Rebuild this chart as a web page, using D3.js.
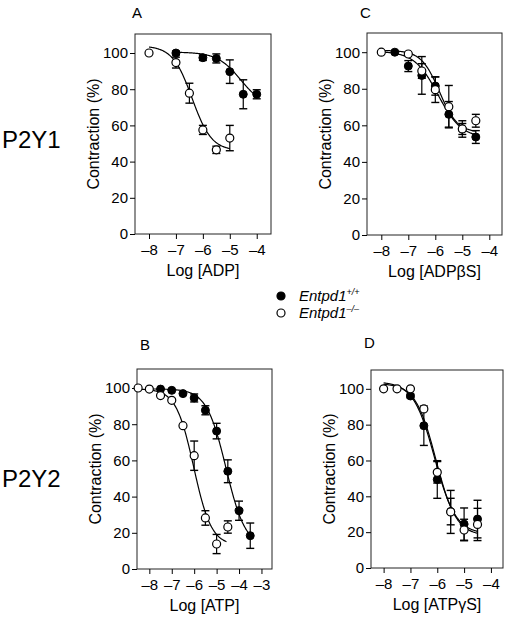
<!DOCTYPE html>
<html><head><meta charset="utf-8">
<script src="https://cdn.jsdelivr.net/npm/d3@7"></script>
<style>body{margin:0;background:#fff}svg{display:block}text{font-family:"Liberation Sans",Arial,sans-serif;fill:#000}</style>
</head><body><svg id="c" width="505" height="619"></svg>
<script>
// ---- data ----
const yTicks = [0, 20, 40, 60, 80, 100];
const xTicksA = [-8, -7, -6, -5, -4];
const xTicksB = [-8, -7, -6, -5, -4, -3];
const rowLabels = ["P2Y1", "P2Y2"];
const panelLetters = ["A", "C", "B", "D"];
const xTitles = ["Log [ADP]", "Log [ADPβS]", "Log [ATP]", "Log [ATPγS]"];

// Panel A: ADP
const adpX_wt = [-7, -6, -5.5, -5, -4.5, -4];
const adpY_wt = [100, 97.4, 97, 89.7, 77.2, 77.2];
const adpE_wt = [1, 1.5, 2.5, 6.5, 8, 2.5];
const adpX_ko = [-8, -7, -6.5, -6, -5.5, -5];
const adpY_ko = [100, 94.7, 77.8, 57.5, 46.5, 53];
const adpE_ko = [0, 3, 5.5, 2.5, 2, 7];
// Panel C: ADPβS
const adpbsX_wt = [-7.5, -7, -6.5, -6, -5.5, -5, -4.5];
const adpbsY_wt = [100, 92.4, 87.3, 81.5, 66, 58, 53.6];
const adpbsE_wt = [0, 3, 10.3, 5, 7, 3, 3.5];
const adpbsX_ko = [-8, -7, -6.5, -6, -5.5, -5, -4.5];
const adpbsY_ko = [100, 99, 89.7, 79.5, 70.2, 58, 62.5];
const adpbsE_ko = [0, 0, 4, 7, 11.6, 4.5, 3.5];
// Panel B: ATP
const atpX_wt = [-7.5, -7, -6.5, -6, -5.5, -5, -4.5, -4, -3.5];
const atpY_wt = [99.4, 98.7, 96.9, 94.5, 87.7, 76.2, 54, 32.2, 18.4];
const atpE_wt = [0, 0, 0, 2.2, 2.5, 4.3, 6.3, 5.3, 7];
const atpX_ko = [-8.5, -8, -7.5, -7, -6.5, -6, -5.5, -5, -4.5];
const atpY_ko = [100, 99.4, 95.8, 93.2, 79.2, 62.6, 28.2, 13.8, 23.2];
const atpE_ko = [0, 0, 0, 0, 0, 8.1, 4, 5.3, 3.4];
// Panel D: ATPγS
const atpgsX_wt = [-7, -6.5, -6, -5.5, -5, -4.5];
const atpgsY_wt = [96, 79.4, 49.4, 31.5, 24.5, 27.3];
const atpgsE_wt = [1, 11, 10.5, 7.4, 9, 10.5];
const atpgsX_ko = [-8, -7.5, -7, -6.5, -6, -5.5, -5, -4.5];
const atpgsY_ko = [100, 100, 100, 88.8, 53.4, 31.3, 21.2, 24.3];
const atpgsE_ko = [0, 0, 0, 0, 6, 12, 6, 9];

// fitted sigmoid parameters [top, bottom, logEC50, hill, xStart, xEnd]
const fitA_wt = [100.5, 70, -4.6, 1.0, -7, -4];
const fitA_ko = [104, 46, -6.4, 1.2, -8, -5];
const fitC_wt = [100.5, 53, -5.9, 1.0, -8, -4.5];
const fitC_ko = [101, 56, -5.85, 1.3, -8, -4.5];
const fitB_wt = [99.5, 12, -4.58, 1.0, -8, -3.5];
const fitB_ko = [99.5, 13, -6.02, 1.1, -8.5, -4.55];
const fitD_wt = [104, 19, -6.1, 1.1, -8, -4.5];
const fitD_ko = [103, 18, -6.05, 1.15, -8, -4.5];

const legendLabels = [["Entpd1", "+/+"], ["Entpd1", "\u2013/\u2013"]];

// ---- layout ----
const FONT = '"Liberation Sans",Arial,sans-serif';
const svg = d3.select("#c");
const panels = [
  {left:135, right:271, top:34, bottom:234, xd:[-8.52,-3.47], ticks:xTicksA, letterPos:[132,18],
   wt:[adpX_wt,adpY_wt,adpE_wt], ko:[adpX_ko,adpY_ko,adpE_ko], fw:fitA_wt, fk:fitA_ko},
  {left:367, right:502, top:33, bottom:235, xd:[-8.53,-3.53], ticks:xTicksA, letterPos:[360,18],
   wt:[adpbsX_wt,adpbsY_wt,adpbsE_wt], ko:[adpbsX_ko,adpbsY_ko,adpbsE_ko], fw:fitC_wt, fk:fitC_ko},
  {left:137, right:272, top:369, bottom:569, xd:[-8.55,-2.53], ticks:xTicksB, letterPos:[140,350],
   wt:[atpX_wt,atpY_wt,atpE_wt], ko:[atpX_ko,atpY_ko,atpE_ko], fw:fitB_wt, fk:fitB_ko},
  {left:371, right:503, top:370, bottom:568, xd:[-8.47,-3.55], ticks:xTicksA, letterPos:[364,348],
   wt:[atpgsX_wt,atpgsY_wt,atpgsE_wt], ko:[atpgsX_ko,atpgsY_ko,atpgsE_ko], fw:fitD_wt, fk:fitD_ko}
];

function sig(p, x){ return p[1] + (p[0]-p[1])/(1+Math.pow(10,(x-p[2])*p[3])); }

panels.forEach((P, i) => {
  const x = d3.scaleLinear().domain(P.xd).range([P.left, P.right]);
  const y = d3.scaleLinear().domain([0, 110.5]).range([P.bottom, P.top]);
  const g = svg.append("g");

  // frame
  g.append("rect").attr("x", P.left).attr("y", P.top)
    .attr("width", P.right-P.left).attr("height", P.bottom-P.top)
    .attr("fill", "none").attr("stroke", "#222").attr("stroke-width", 1);

  // axes
  const xa = g.append("g").attr("transform", `translate(0,${P.bottom})`)
    .call(d3.axisBottom(x).tickValues(P.ticks).tickSize(5).tickPadding(5)
      .tickFormat(d => d < 0 ? "\u2013" + Math.abs(d) : d));
  const ya = g.append("g").attr("transform", `translate(${P.left},0)`)
    .call(d3.axisLeft(y).tickValues(yTicks).tickSize(5).tickPadding(2));
  [xa, ya].forEach(a => {
    a.select(".domain").remove();
    a.selectAll("text").style("font-family", FONT).style("font-size", "15px").attr("fill", "#000");
    a.selectAll("line").attr("stroke", "#000");
  });

  // titles
  g.append("text").attr("x", (P.left+P.right)/2).attr("y", P.bottom+42)
    .attr("text-anchor", "middle").style("font-size", "16px").text(xTitles[i]);
  g.append("text").attr("transform", `translate(${P.left-36},${(P.top+P.bottom)/2}) rotate(-90)`)
    .attr("text-anchor", "middle").style("font-size", "16px").text("Contraction (%)");
  g.append("text").attr("x", P.letterPos[0]).attr("y", P.letterPos[1])
    .style("font-size", "15px").text(panelLetters[i]);

  // fit curves
  const line = d3.line().x(d => x(d)).curve(d3.curveLinear);
  [P.fw, P.fk].forEach(f => {
    const xs = d3.range(f[4], f[5] + 1e-9, 0.02);
    g.append("path").attr("d", line.y(d => y(sig(f, d)))(xs))
      .attr("fill", "none").attr("stroke", "#000").attr("stroke-width", 1.2);
  });

  // error bars
  [P.wt, P.ko].forEach(s => {
    s[0].forEach((xv, k) => {
      const e = s[2][k];
      if (e <= 0) return;
      const cx = x(xv), y1 = y(s[1][k]+e), y2 = y(s[1][k]-e);
      g.append("line").attr("x1", cx).attr("x2", cx).attr("y1", y1).attr("y2", y2).attr("stroke", "#000").attr("stroke-width", 1.2);
      [y1, y2].forEach(yy => g.append("line").attr("x1", cx-4).attr("x2", cx+4).attr("y1", yy).attr("y2", yy).attr("stroke", "#000").attr("stroke-width", 1.4));
    });
  });

  // points: filled first, open on top
  g.selectAll(null).data(P.wt[0].map((xv,k)=>[xv,P.wt[1][k]])).enter().append("circle")
    .attr("cx", d => x(d[0])).attr("cy", d => y(d[1])).attr("r", 4)
    .attr("fill", "#000").attr("stroke", "#000").attr("stroke-width", 1);
  g.selectAll(null).data(P.ko[0].map((xv,k)=>[xv,P.ko[1][k]])).enter().append("circle")
    .attr("cx", d => x(d[0])).attr("cy", d => y(d[1])).attr("r", 4)
    .attr("fill", "#fff").attr("stroke", "#000").attr("stroke-width", 1.2);
});

// row labels
svg.append("text").attr("x", 2).attr("y", 148).style("font-size", "24px").text(rowLabels[0]);
svg.append("text").attr("x", 2).attr("y", 487).style("font-size", "24px").text(rowLabels[1]);

// legend
const lg = svg.append("g");
legendLabels.forEach((lab, k) => {
  const cy = 296 + k*17;
  lg.append("circle").attr("cx", 281).attr("cy", cy).attr("r", 4)
    .attr("fill", k === 0 ? "#000" : "#fff").attr("stroke", "#000").attr("stroke-width", 1.2);
  const t = lg.append("text").attr("x", 299).attr("y", cy + 5).style("font-size", "15px").style("font-style", "italic");
  t.append("tspan").text(lab[0]);
  t.append("tspan").attr("dy", -6).style("font-size", "9px").text(lab[1]);
});
</script></body></html>
